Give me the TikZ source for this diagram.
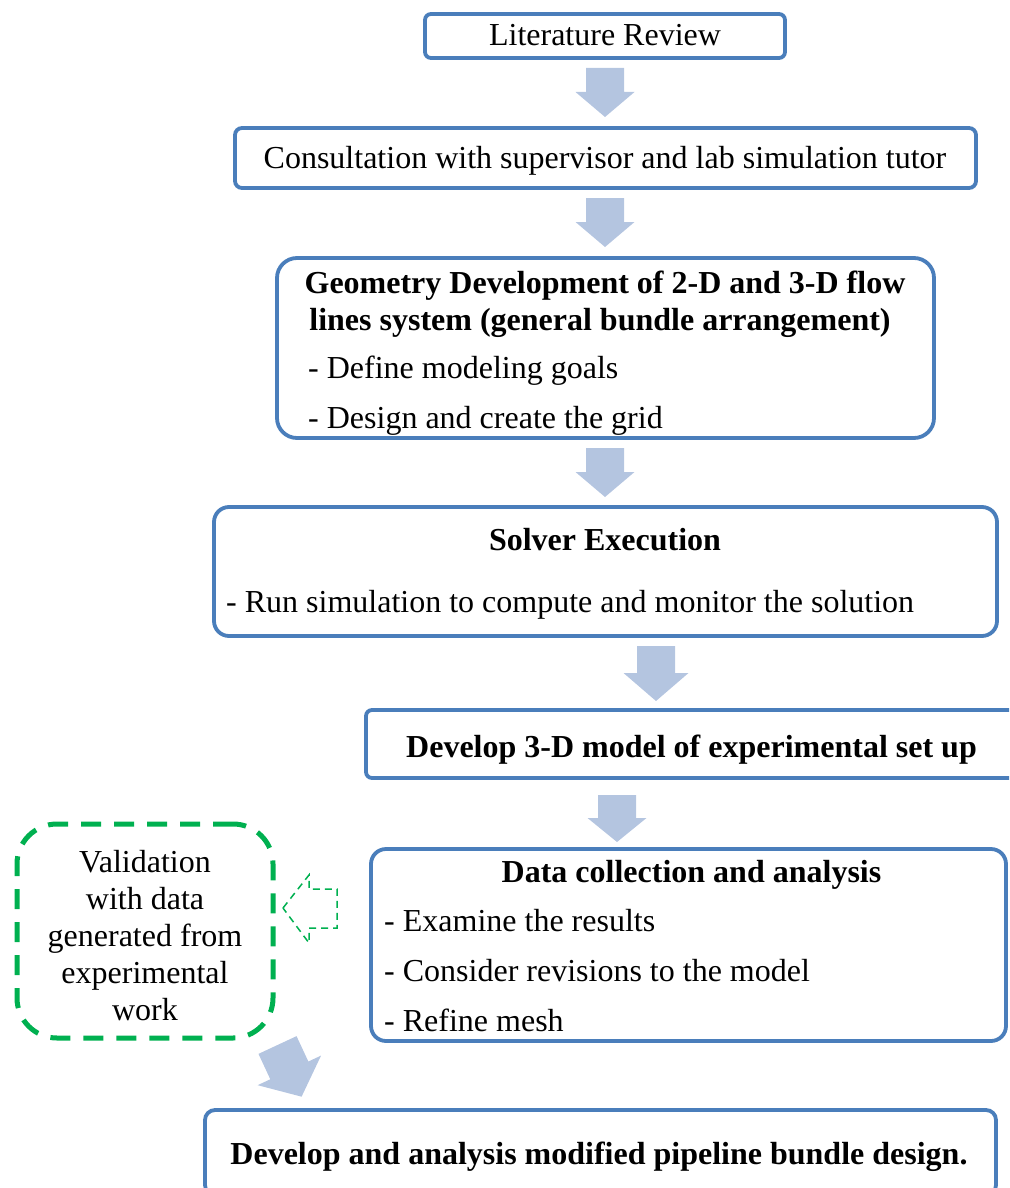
\documentclass[tikz,border=0pt]{standalone}
\usepackage{fontspec}
\setmainfont{Liberation Serif}
\usetikzlibrary{calc}
\definecolor{boxblue}{HTML}{4A7EBB}
\definecolor{arrowfill}{HTML}{B4C5E0}
\definecolor{valgreen}{HTML}{00B050}

\begin{document}
\begin{tikzpicture}[x=1pt,y=-1pt,
  box/.style={draw=boxblue, line width=3.8pt, fill=white, inner sep=0pt},
  txt/.style={font=\fontsize{32}{37}\selectfont, inner sep=0pt, anchor=base},
  ttl/.style={txt, font=\fontsize{32}{37}\selectfont\bfseries},
  item/.style={txt, anchor=base west},
  pics/barrow/.style n args={4}{code={%
    \fill[arrowfill] ({-#3/2},0) -- ({#3/2},0) -- ({#3/2},{#1-#2}) -- ({#4/2},{#1-#2})
      -- (0,#1) -- ({-#4/2},{#1-#2}) -- ({-#3/2},{#1-#2}) -- cycle;}}
]
\useasboundingbox (0,0) rectangle (1009,1188);
\clip (0,0) rectangle (1009,1188);

% process boxes
\node[box, rounded corners=6pt, minimum width=360pt, minimum height=44pt] (lit) at (605,36) {};
\node[box, rounded corners=7pt, minimum width=741pt, minimum height=60pt] (cons) at (605.5,158) {};
\node[box, rounded corners=20pt, minimum width=657pt, minimum height=180pt] (geo) at (605.5,348) {};
\node[box, rounded corners=15pt, minimum width=783pt, minimum height=129pt] (solv) at (605.5,571.5) {};
\node[box, rounded corners=6pt, minimum width=654pt, minimum height=68pt] (dev) at (693,744) {};
\node[box, rounded corners=15pt, minimum width=635pt, minimum height=192pt] (data) at (688.5,945) {};
\node[box, rounded corners=10pt, minimum width=791pt, minimum height=85pt] (final) at (600.5,1152.5) {};
\node[draw=valgreen, line width=5pt, dash pattern=on 20pt off 13pt, rounded corners=40pt,
      minimum width=256pt, minimum height=214pt, inner sep=0pt] (val) at (145,931) {};

% texts
\node[txt] (tlit) at (605,46) {Literature Review};
\node[txt] (tcons) at (605,168) {Consultation with supervisor and lab simulation tutor};
\node[ttl] (tgeo1) at (605,293) {Geometry Development of 2-D and 3-D flow};
\node[ttl] (tgeo2) at (600,330) {lines system (general bundle arrangement)};
\node[item] (tgeo3) at (308,378) {- Define modeling goals};
\node[item] (tgeo4) at (308,428) {- Design and create the grid};
\node[ttl] (tsolv1) at (605,550) {Solver Execution};
\node[item] (tsolv2) at (226,612) {- Run simulation to compute and monitor the solution};
\node[ttl] (tdev) at (691.5,757) {Develop 3-D model of experimental set up};
\node[ttl] (tdata1) at (691.5,882) {Data collection and analysis};
\node[item] (tdata2) at (384,931) {- Examine the results};
\node[item] (tdata3) at (384,981) {- Consider revisions to the model};
\node[item] (tdata4) at (384,1031) {- Refine mesh};
\node[txt] (tval1) at (145,872) {Validation};
\node[txt] (tval2) at (145,909) {with data};
\node[txt] (tval3) at (145,946) {generated from};
\node[txt] (tval4) at (145,983) {experimental};
\node[txt] (tval5) at (145,1020) {work};
\node[ttl] (tfinal) at (599,1164) {Develop and analysis modified pipeline bundle design.};

% block arrows between the stages
\pic at (605,68) {barrow={49}{25}{38}{59}};
\pic at (605,198) {barrow={49}{25}{38}{59}};
\pic at (605,448) {barrow={49}{25}{38}{59}};
\pic at (656,646) {barrow={55}{28}{38}{65}};
\pic at (617,795) {barrow={47}{24}{38}{59}};
\pic[rotate=25] at (277.5,1045) {barrow={57}{29}{42}{70}};

% outlined arrow pointing to the validation box
\draw[valgreen, line width=1.5pt, dash pattern=on 7pt off 5pt]
  (283,908) -- (309,875) -- (309,889) -- (337,889) -- (337,928) -- (309,928) -- (309,943) -- cycle;
\end{tikzpicture}
\end{document}
